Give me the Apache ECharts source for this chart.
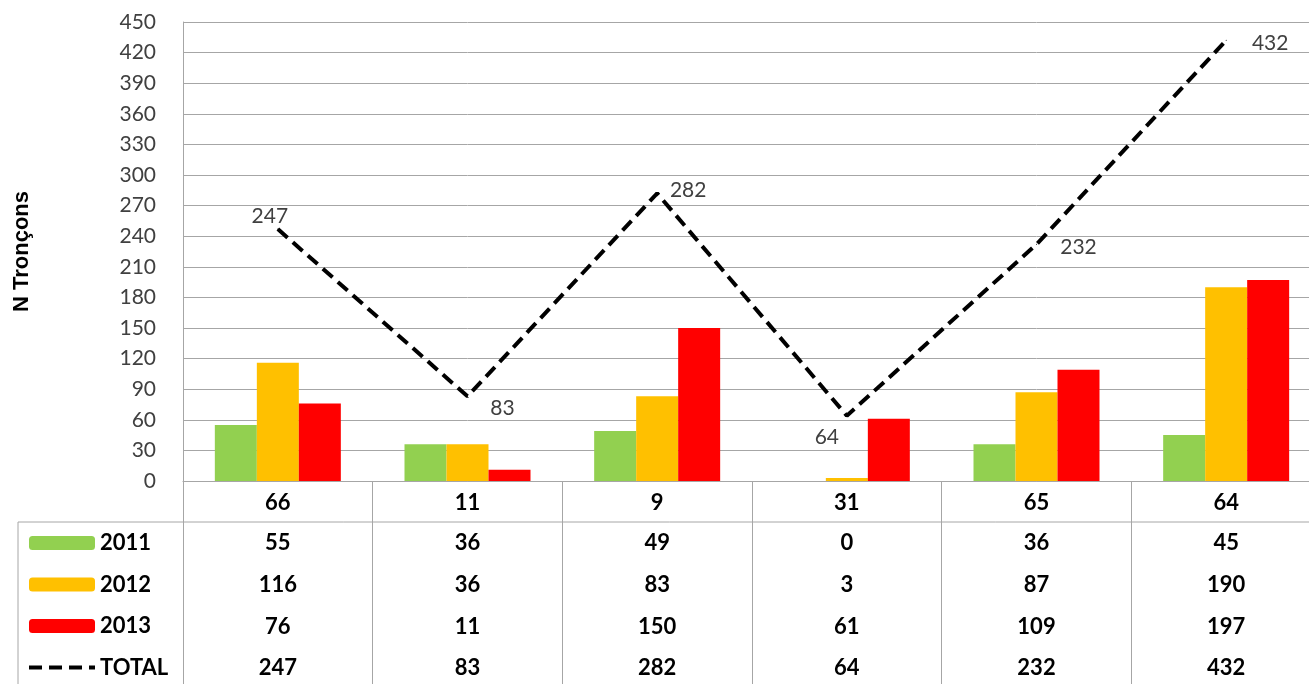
<!DOCTYPE html>
<html>
<head>
<meta charset="utf-8">
<script src="https://cdn.jsdelivr.net/npm/echarts@6/dist/echarts.min.js"></script>
<style>
html,body{margin:0;padding:0;background:#fff;overflow:hidden;width:1309px;height:684px;}
#chart{width:1321px;height:684px;}
</style>
</head>
<body>
<div id="chart"></div>
<script>
const categories = ['66', '11', '9', '31', '65', '64'];
const s2011 = [55, 36, 49, 0, 36, 45];
const s2012 = [116, 36, 83, 3, 87, 190];
const s2013 = [76, 11, 150, 61, 109, 197];
const total = [247, 83, 282, 64, 232, 432];
const seriesNames = ['2011', '2012', '2013', 'TOTAL'];
const yMin = 0, yMax = 450, yInterval = 30;

const FONT = 'Lato';
const GRID_COLOR = '#a6a6a6';
const colors = ['#92D050', '#FFC000', '#FF0000', '#000000'];
const rows = [s2011, s2012, s2013, total];
const rowOffsets = [40, 82, 124, 165];
const totalLabelOffsets = [[-8, -13], [35, 12], [31, -3], [-20, 22], [42, 3], [44, 3]];

const chart = echarts.init(document.getElementById('chart'));

const xAxes = [{
  type: 'category', gridIndex: 0, data: categories, position: 'bottom',
  axisLine: { show: true, lineStyle: { color: GRID_COLOR, width: 1 } },
  axisTick: { show: false },
  axisLabel: { margin: 11, fontFamily: FONT, fontSize: 22, fontWeight: 'bold', color: '#000' },
  splitLine: { show: false }
}];
rows.forEach((vals, r) => {
  xAxes.push({
    type: 'category', gridIndex: 0, data: categories, position: 'bottom', offset: rowOffsets[r],
    axisLine: { show: false }, axisTick: { show: false }, splitLine: { show: false },
    axisLabel: { margin: 11, fontFamily: FONT, fontSize: 22, fontWeight: 'bold', color: '#000',
      formatter: (v, i) => String(vals[i]) }
  });
});
xAxes.push({
  type: 'category', gridIndex: 1, data: categories,
  axisLine: { show: false }, axisTick: { show: false }, axisLabel: { show: false },
  splitLine: { show: true, lineStyle: { color: GRID_COLOR, width: 1 } }
});

const option = {
  backgroundColor: '#fff',
  animation: false,
  grid: [
    { left: 183, right: 0, top: 22, height: 459 },
    { left: 183, right: 0, top: 481, bottom: 0 }
  ],
  legend: {
    orient: 'vertical', left: 27, top: 532, padding: 0,
    itemWidth: 66, itemHeight: 14, itemGap: 19.5, itemTextGap: 8,
    selectedMode: false,
    textStyle: { fontFamily: FONT, fontSize: 22, fontWeight: 'bold', color: '#000', lineHeight: 22 },
    lineStyle: { width: 4 },
    data: [
      { name: seriesNames[0] }, { name: seriesNames[1] }, { name: seriesNames[2] },
      { name: seriesNames[3], itemStyle: { opacity: 0 } }
    ]
  },
  xAxis: xAxes,
  yAxis: [{
    type: 'value', gridIndex: 0, min: yMin, max: yMax, interval: yInterval,
    name: 'N Tronçons', nameLocation: 'middle', nameGap: 150, nameRotate: 90,
    nameTextStyle: { fontFamily: 'Liberation Sans', fontSize: 22, fontWeight: 'bold', color: '#000' },
    axisLine: { show: true, lineStyle: { color: GRID_COLOR, width: 1 } },
    axisTick: { show: false },
    axisLabel: { margin: 27, fontFamily: FONT, fontSize: 21, color: '#404040' },
    splitLine: { show: true, lineStyle: { color: GRID_COLOR, width: 1 } }
  }, {
    type: 'value', gridIndex: 1, show: false
  }],
  series: [
    { name: seriesNames[0], type: 'bar', data: s2011, barWidth: 42, barGap: '0%', itemStyle: { color: colors[0] } },
    { name: seriesNames[1], type: 'bar', data: s2012, barWidth: 42, barGap: '0%', itemStyle: { color: colors[1] } },
    { name: seriesNames[2], type: 'bar', data: s2013, barWidth: 42, barGap: '0%', itemStyle: { color: colors[2] } },
    {
      name: seriesNames[3], type: 'line', z: 5,
      data: total.map((v, i) => ({ value: v, label: { offset: totalLabelOffsets[i] } })),
      symbol: 'circle', symbolSize: 1, showSymbol: true,
      itemStyle: { color: '#000' },
      lineStyle: { color: '#000', width: 4, type: [13, 7] },
      label: { show: true, position: 'inside', fontFamily: FONT, fontSize: 21, color: '#404040' }
    }
  ],
  graphic: [
    { type: 'line', shape: { x1: 18, y1: 522, x2: 1321, y2: 522 }, style: { stroke: GRID_COLOR, lineWidth: 1 } },
    { type: 'line', shape: { x1: 18, y1: 522, x2: 18, y2: 684 }, style: { stroke: GRID_COLOR, lineWidth: 1 } }
  ]
};
chart.setOption(option);
</script>
</body>
</html>
